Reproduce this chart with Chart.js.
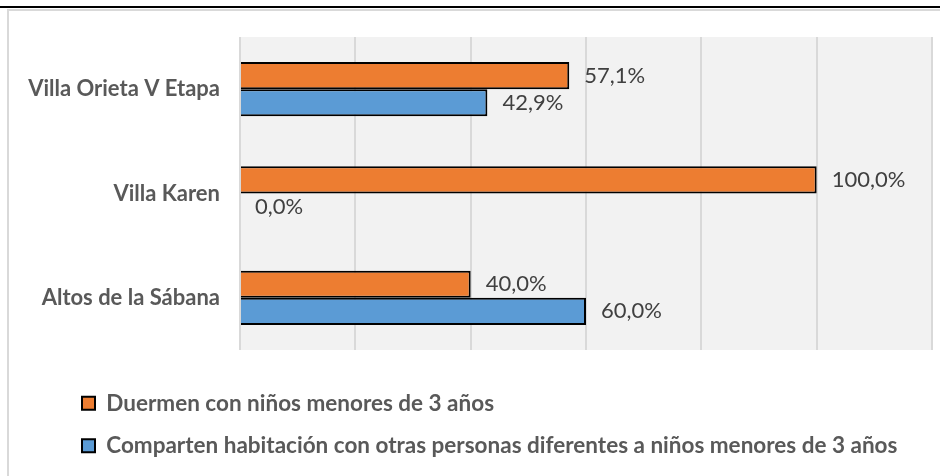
<!DOCTYPE html>
<html>
<head>
<meta charset="utf-8">
<script src="https://cdn.jsdelivr.net/npm/chart.js@4.4.1/dist/chart.umd.min.js"></script>
<style>
  html, body { margin: 0; padding: 0; background: #fff; }
  canvas { display: block; }
</style>
</head>
<body>
<canvas id="chart" width="940" height="476"></canvas>
<script>
const zonas = ['Villa Orieta V Etapa', 'Villa Karen', 'Altos de la Sábana'];
const duermen = [57.1, 100.0, 40.0];
const comparten = [42.9, 0.0, 60.0];
const serieNombres = [
    'Duermen con niños menores de 3 años',
    'Comparten habitación con otras personas diferentes a niños menores de 3 años'
];

const marco = {
    id: 'marco',
    afterLayout(chart) {
        // la leyenda empieza alineada bajo el texto, no en el borde
        if (chart.legend) chart.legend.left = 62;
    },
    beforeDraw(chart) {
        const ctx = chart.ctx;
        const a = chart.chartArea;
        ctx.save();
        ctx.fillStyle = '#ffffff';
        ctx.fillRect(0, 0, chart.width, chart.height);
        // borde gris del grafico
        ctx.strokeStyle = '#d9d9d9';
        ctx.lineWidth = 2;
        ctx.beginPath();
        ctx.moveTo(8, chart.height);
        ctx.lineTo(8, 10);
        ctx.lineTo(chart.width, 10);
        ctx.stroke();
        // linea negra superior
        ctx.strokeStyle = '#000000';
        ctx.beginPath();
        ctx.moveTo(0, 7);
        ctx.lineTo(chart.width, 7);
        ctx.stroke();
        // fondo del area de trazado
        ctx.fillStyle = '#f2f2f2';
        ctx.fillRect(a.left, a.top, a.right - a.left, a.bottom - a.top);
        ctx.restore();
    }
};

const etiquetas = {
    id: 'etiquetas',
    afterDatasetsDraw(chart) {
        const ctx = chart.ctx;
        ctx.save();
        ctx.font = '22px Lato';
        ctx.fillStyle = '#404040';
        ctx.textAlign = 'left';
        ctx.textBaseline = 'middle';
        chart.data.datasets.forEach((ds, i) => {
            chart.getDatasetMeta(i).data.forEach((bar, j) => {
                const txt = ds.data[j].toFixed(1).replace('.', ',') + '%';
                ctx.fillText(txt, bar.x + 15, bar.y);
            });
        });
        ctx.restore();
    }
};

const data = {
    labels: zonas,
    datasets: [{
        label: serieNombres[0],
        data: duermen,
        backgroundColor: '#ed7d31',
        borderColor: '#000000',
        borderWidth: 2,
    }, {
        label: serieNombres[1],
        data: comparten,
        backgroundColor: '#5b9bd5',
        borderColor: '#000000',
        borderWidth: 2,
    }]
};

const config = {
    type: 'bar',
    data: data,
    options: {
        indexAxis: 'y',
        responsive: false,
        animation: false,
        layout: {
            padding: { top: 37, right: 8, left: 10, bottom: 9 }
        },
        datasets: {
            bar: {
                categoryPercentage: 0.52,
                barPercentage: 1.0,
            }
        },
        plugins: {
            legend: {
                position: 'bottom',
                align: 'start',
                labels: {
                    boxWidth: 13,
                    boxHeight: 13,
                    padding: 20,
                    color: '#595959',
                    font: { family: 'Lato', weight: 'bold', size: 22.5 },
                }
            },
            tooltip: { enabled: false },
        },
        scales: {
            x: {
                min: 0,
                max: 120,
                ticks: { display: false, stepSize: 20 },
                grid: { color: '#d9d9d9', lineWidth: 2, drawTicks: false },
                border: { display: false },
                afterFit(scale) { scale.height = 22; },
            },
            y: {
                ticks: {
                    color: '#595959',
                    padding: 20,
                    font: { family: 'Lato', weight: 'bold', size: 22 },
                },
                grid: { display: false, drawTicks: false },
                border: { display: false },
                afterFit(scale) { scale.width = 230; },
            },
        },
    },
    plugins: [marco, etiquetas],
};

const graficoDormitorio = new Chart(
    document.getElementById('chart'),
    config
);
</script>
</body>
</html>
